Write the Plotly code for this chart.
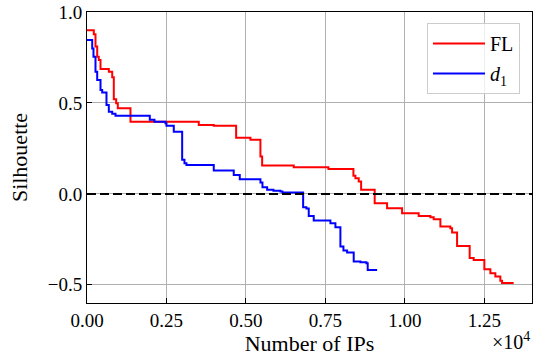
import plotly.graph_objects as go

# ---- data ----
fl_x = [0, 214, 267, 321, 371, 425, 686, 793, 843, 918, 969, 1368, 3516, 3988, 4692,
        5142, 5456, 5510, 6504, 7595, 8381, 8444, 8548, 8624, 9051, 9441, 9913, 10435,
        10803, 10907, 11118, 11432, 11486, 11643, 12039, 12165, 12501, 12690, 12847,
        13004, 13058, 13423]
fl_y = [0.90, 0.877, 0.81, 0.754, 0.736, 0.687, 0.672, 0.641, 0.52, 0.498, 0.471, 0.397,
        0.379, 0.374, 0.309, 0.297, 0.205, 0.156, 0.147, 0.137, 0.099, 0.086, 0.068,
        0.022, -0.051, -0.079, -0.106, -0.121, -0.128, -0.139, -0.18, -0.189, -0.213,
        -0.286, -0.353, -0.363, -0.414, -0.436, -0.454, -0.478, -0.49, -0.49]

d1_x = [0, 164, 204, 267, 321, 425, 478, 613, 686, 793, 896, 1975, 2123, 2469, 2500,
        2730, 2994, 3066, 3129, 3988, 4617, 4806, 5457, 5520, 5667, 5865, 6086, 6149,
        6800, 6903, 6976, 7133, 7658, 7815, 7972, 8067, 8183, 8391, 8602, 8790, 8831, 9127]
d1_y = [0.846, 0.80, 0.754, 0.672, 0.626, 0.571, 0.557, 0.489, 0.452, 0.44, 0.429, 0.407,
        0.397, 0.388, 0.374, 0.342, 0.187, 0.168, 0.159, 0.128, 0.104, 0.081, 0.062,
        0.037, 0.022, 0.017, 0.013, 0.007, -0.073, -0.08, -0.121, -0.147, -0.161, -0.183,
        -0.29, -0.311, -0.322, -0.372, -0.376, -0.381, -0.418, -0.418]

x_tick_vals = [0, 2500, 5000, 7500, 10000, 12500]
x_tick_text = ["0.00", "0.25", "0.50", "0.75", "1.00", "1.25"]
y_tick_vals = [-0.5, 0.0, 0.5, 1.0]
y_tick_text = ["\u22120.5", "0.0", "0.5", "1.0"]

FONT = "Liberation Serif, DejaVu Serif, serif"
TF = dict(family=FONT, size=19, color="black")
LF = dict(family=FONT, size=22, color="black")

fig = go.Figure()
fig.add_trace(go.Scatter(x=fl_x, y=fl_y, mode="lines", name="FL",
                         line=dict(color="#ff0000", width=2, shape="hv"),
                         legendgroup="a"))
fig.add_trace(go.Scatter(x=d1_x, y=d1_y, mode="lines", name="<i>d</i><sub>1</sub>",
                         line=dict(color="#0000ff", width=2, shape="hv"),
                         legendgroup="b"))

fig.add_shape(type="line", xref="paper", yref="y", x0=0, x1=1, y0=0, y1=0,
              line=dict(color="black", width=2, dash="9px,4px"), layer="above")

fig.add_annotation(text="×10<sup>4</sup>", xref="paper", yref="paper",
                   x=1.0, y=-0.13, xanchor="right", yanchor="middle",
                   showarrow=False, font=dict(family=FONT, size=20, color="black"))

fig.update_layout(
    width=534, height=358,
    margin=dict(l=87, r=2, t=12, b=55),
    paper_bgcolor="white", plot_bgcolor="white",
    font=TF,
    showlegend=True,
    legend=dict(x=0.973, y=0.962, xanchor="right", yanchor="top",
                bgcolor="rgba(255,255,255,0.8)", bordercolor="#cccccc", borderwidth=1,
                font=dict(family=FONT, size=20, color="black"), tracegroupgap=1,
                traceorder="grouped", itemwidth=52),
    xaxis=dict(range=[0, 14000], tickvals=x_tick_vals, ticktext=x_tick_text,
               tickfont=TF,
               showgrid=True, gridcolor="#b0b0b0", gridwidth=1, zeroline=False,
               showline=True, linecolor="black", linewidth=1, mirror=True,
               ticks="inside", ticklen=5, tickcolor="black",
               title=dict(text="Number of IPs", standoff=4, font=LF)),
    yaxis=dict(range=[-0.6, 1.0], tickvals=y_tick_vals, ticktext=y_tick_text,
               tickfont=TF,
               showgrid=True, gridcolor="#b0b0b0", gridwidth=1, zeroline=False,
               showline=True, linecolor="black", linewidth=1, mirror=True,
               ticks="inside", ticklen=5, tickcolor="black",
               title=dict(text="Silhouette", standoff=14, font=LF)),
)

fig.write_html("out.html")
